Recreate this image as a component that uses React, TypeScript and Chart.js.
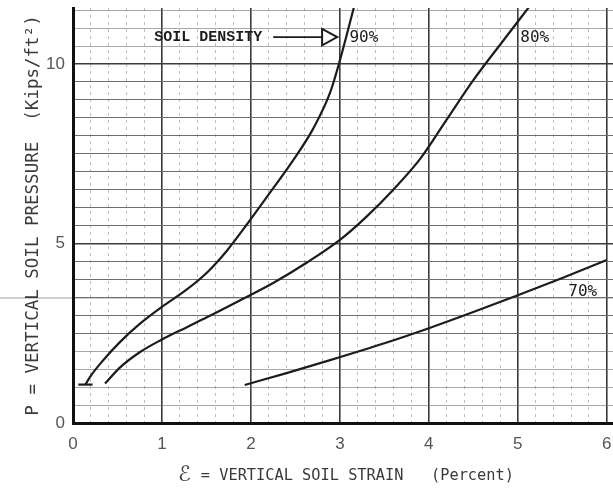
import React, { useEffect, useRef } from "react";
import { Chart, registerables } from "chart.js";

Chart.register(...registerables);

// Vertical soil strain (percent) against vertical soil pressure (kips/ft²)
const strain90 = [0.14, 0.19, 0.34, 0.53, 0.75, 0.98, 1.28, 1.51, 1.73, 1.96, 2.18, 2.47, 2.7, 2.89, 3.0, 3.16];
const pressure90 = [1.07, 1.28, 1.75, 2.26, 2.76, 3.2, 3.72, 4.2, 4.8, 5.55, 6.3, 7.3, 8.2, 9.2, 10.1, 11.6];

const strain80 = [0.36, 0.53, 0.75, 0.98, 1.28, 1.51, 1.88, 2.25, 2.63, 3.0, 3.3, 3.6, 3.9, 4.2, 4.5, 4.82, 5.13];
const pressure80 = [1.1, 1.55, 1.97, 2.3, 2.67, 2.95, 3.42, 3.9, 4.47, 5.1, 5.75, 6.5, 7.35, 8.45, 9.55, 10.6, 11.6];

const strain70 = [1.93, 2.4, 2.89, 3.5, 4.0, 4.5, 5.0, 5.5, 6.0];
const pressure70 = [1.06, 1.39, 1.75, 2.22, 2.64, 3.09, 3.56, 4.04, 4.54];

// short base stroke where the 90% curve starts
const baseStrain90 = [0.06, 0.22];
const basePressure90 = [1.07, 1.07];

// axis ticks
const xTickLabels = ["0", "1", "2", "3", "4", "5", "6"];
const yTickLabels = [0, 5, 10];

// axis titles
const xTitleSymbol = "ℰ";
const xTitleText = "= VERTICAL SOIL STRAIN   (Percent)";
const yTitleText = "P = VERTICAL SOIL PRESSURE  (Kips/ft²)";

// curve labels
const curveLabels = ["90%", "80%", "70%"];
const labelStrain = [3.27, 5.19, 5.73];
const labelPressure = [10.72, 10.72, 3.65];

// "SOIL DENSITY" pointer
const pointerText = "SOIL DENSITY";
const pointerTextAt = [1.52, 10.75];
const pointerShaft = [2.25, 2.8];
const pointerTip = 2.97;
const pointerHalfHeight = 0.23;

// faint rule running across the whole sheet
const sheetRuleAt = 3.48;

const X_MAX = 6.07;
const Y_MAX = 11.56;

const toPoints = (xs: number[], ys: number[]) => xs.map((x, i) => ({ x, y: ys[i] }));

const INK = "#1c1c1c";
const TEXT = "#3a3a3a";

const noEdgePadding = (s: any) => {
  s.paddingTop = 0;
  s.paddingBottom = 0;
  s.paddingLeft = 0;
  s.paddingRight = 0;
};

const sheetPlugin = {
  id: "sheet",
  beforeDraw(chart: any) {
    const { ctx, width, height, scales } = chart;
    ctx.save();
    ctx.fillStyle = "#ffffff";
    ctx.fillRect(0, 0, width, height);
    const py = scales.y.getPixelForValue(sheetRuleAt);
    ctx.strokeStyle = "rgba(150,150,150,0.45)";
    ctx.lineWidth = 2;
    ctx.beginPath();
    ctx.moveTo(0, py);
    ctx.lineTo(width, py);
    ctx.stroke();
    ctx.restore();
  },
  afterDraw(chart: any) {
    // x-axis title: script epsilon followed by the typed caption
    const { ctx, chartArea, height } = chart;
    ctx.save();
    ctx.textBaseline = "alphabetic";
    ctx.textAlign = "left";
    const symFont = '21px "DejaVu Sans"';
    const txtFont = '15.3px "DejaVu Sans Mono"';
    ctx.font = symFont;
    const symW = ctx.measureText(xTitleSymbol).width;
    ctx.font = txtFont;
    const txtW = ctx.measureText(xTitleText).width;
    const gap = 10;
    const total = symW + gap + txtW;
    const cx = (chartArea.left + chartArea.right) / 2 + 3;
    const x0 = cx - total / 2;
    const base = height - 10;
    ctx.fillStyle = TEXT;
    ctx.font = symFont;
    ctx.fillText(xTitleSymbol, x0, base);
    ctx.font = txtFont;
    ctx.fillText(xTitleText, x0 + symW + gap, base - 1);
    ctx.restore();
  },
  afterDatasetsDraw(chart: any) {
    const { ctx, scales } = chart;
    const x = scales.x;
    const y = scales.y;
    ctx.save();
    ctx.fillStyle = INK;
    ctx.strokeStyle = INK;
    ctx.textBaseline = "middle";
    ctx.textAlign = "center";

    // pointer label
    ctx.font = 'bold 15px "Liberation Mono"';
    const ty = y.getPixelForValue(pointerTextAt[1]);
    ctx.fillText(pointerText, x.getPixelForValue(pointerTextAt[0]), ty);

    // arrow shaft
    ctx.lineWidth = 1.8;
    ctx.beginPath();
    ctx.moveTo(x.getPixelForValue(pointerShaft[0]), ty);
    ctx.lineTo(x.getPixelForValue(pointerShaft[1]), ty);
    ctx.stroke();

    // open triangular head
    const bx = x.getPixelForValue(pointerShaft[1]);
    const tx = x.getPixelForValue(pointerTip);
    const hh = Math.abs(y.getPixelForValue(0) - y.getPixelForValue(pointerHalfHeight));
    ctx.lineWidth = 2;
    ctx.beginPath();
    ctx.moveTo(bx, ty - hh);
    ctx.lineTo(tx, ty);
    ctx.lineTo(bx, ty + hh);
    ctx.closePath();
    ctx.fillStyle = "#ffffff";
    ctx.fill();
    ctx.stroke();

    // curve labels
    ctx.fillStyle = INK;
    ctx.font = '16px "DejaVu Sans Mono"';
    curveLabels.forEach((t, i) => {
      ctx.fillText(t, x.getPixelForValue(labelStrain[i]), y.getPixelForValue(labelPressure[i]));
    });
    ctx.restore();
  },
};

const curve = (label: string, xs: number[], ys: number[], smooth = true) => ({
  label,
  data: toPoints(xs, ys),
  showLine: true,
  borderColor: INK,
  borderWidth: 2.2,
  pointRadius: 0,
  fill: false,
  cubicInterpolationMode: smooth ? "monotone" : "default",
  tension: 0,
});

export default function App() {
  const canvasRef = useRef<HTMLCanvasElement | null>(null);

  useEffect(() => {
    const canvas = canvasRef.current;
    if (!canvas) return;
    const chart = new Chart(canvas, {
      type: "scatter",
      data: {
        datasets: [
          curve("90%", strain90, pressure90),
          curve("90% base", baseStrain90, basePressure90, false),
          curve("80%", strain80, pressure80),
          curve("70%", strain70, pressure70),
        ] as any,
      },
      options: {
        animation: false,
        responsive: false,
        events: [],
        layout: { padding: { top: 8, right: 0, bottom: 0, left: 0 } },
        plugins: {
          legend: { display: false },
          tooltip: { enabled: false },
        },
        scales: {
          x: {
            type: "linear",
            position: "bottom",
            min: 0,
            max: X_MAX,
            afterFit: (s: any) => {
              s.height = 68;
              noEdgePadding(s);
            },
            ticks: {
              stepSize: 1,
              includeBounds: false,
              autoSkip: false,
              maxRotation: 0,
              padding: 11,
              color: "#555",
              font: { family: '"Liberation Sans"', size: 17 },
              callback: (v: any) => xTickLabels[Math.round(Number(v))] ?? "",
            },
            grid: { color: "#3a3a3a", lineWidth: 1.6, drawTicks: false },
            border: { display: true, color: "#111", width: 3 },
            title: { display: false },
          },
          xMinor: {
            type: "linear",
            position: "top",
            min: 0,
            max: X_MAX,
            afterFit: (s: any) => {
              s.height = 0;
              noEdgePadding(s);
            },
            ticks: { display: false, stepSize: 0.2, includeBounds: false, autoSkip: false },
            grid: {
              drawTicks: false,
              lineWidth: 1,
              color: (c: any) => {
                const v = c.tick ? c.tick.value : 0;
                return Math.abs(v - Math.round(v)) < 1e-6 ? "rgba(0,0,0,0)" : "rgba(110,110,110,0.45)";
              },
            },
            border: { display: false, dash: [3, 4] },
          },
          y: {
            type: "linear",
            min: 0,
            max: Y_MAX,
            afterFit: (s: any) => {
              s.width = 73;
              noEdgePadding(s);
            },
            ticks: {
              stepSize: 0.5,
              includeBounds: false,
              autoSkip: false,
              padding: 8,
              color: "#555",
              font: { family: '"Liberation Sans"', size: 17 },
              callback: (v: any) => (yTickLabels.includes(Number(v)) ? String(v) : ""),
            },
            grid: {
              drawTicks: false,
              color: (c: any) => {
                const v = c.tick ? c.tick.value : 0;
                if (v % 5 === 0) return "#3c3c3c";
                return v >= 2.5 && v <= 9.5 ? "#6e6e6e" : "rgba(110,110,110,0.6)";
              },
              lineWidth: (c: any) => {
                const v = c.tick ? c.tick.value : 0;
                return v % 5 === 0 ? 1.6 : 1;
              },
            },
            border: { display: true, color: "#111", width: 3 },
            title: {
              display: true,
              text: yTitleText,
              color: TEXT,
              font: { family: '"DejaVu Sans Mono"', size: 17.5 },
              padding: { top: 23, bottom: 0 },
            },
          },
        },
      } as any,
      plugins: [sheetPlugin],
    });
    return () => chart.destroy();
  }, []);

  return (
    <div style={{ position: "absolute", left: 0, top: 0, width: 613, height: 491, background: "#fff" }}>
      <canvas ref={canvasRef} width={613} height={491} style={{ display: "block" }} />
    </div>
  );
}
